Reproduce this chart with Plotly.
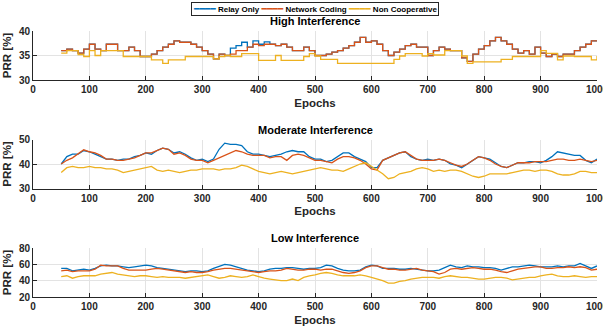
import plotly.graph_objects as go

epochs = list(range(50, 1001, 10))

# High interference
relay_high = [36, 36.3, 36, 35.5, 36.3, 37.3, 36.3, 36, 37.3, 37.3,
              36, 36, 36.7, 36, 34.8, 34.8, 35.3, 36, 36.7, 37.3,
              38, 37.7, 37.7, 37.3, 36.7, 36, 35.3, 34.3, 35.3, 35,
              36.5, 37, 37.7, 36.7, 38, 37.3, 37.8, 37.3, 37, 37.3,
              36.7, 36, 36, 36.7, 36, 35, 35, 35.3, 35.7, 36,
              36.5, 37, 37.7, 38.7, 37.7, 38, 37.3, 36, 35, 35.7,
              36.3, 37, 37.3, 36.7, 36.7, 35, 36, 36.7, 36.3, 36,
              36, 34.5, 33.8, 35.3, 36.3, 37, 38, 38.7, 38, 37.3,
              36.3, 35.5, 36, 35.3, 36.7, 35.5, 34.8, 35.3, 34.8, 35.3,
              35.3, 36, 36.7, 37.3, 38, 38]
nc_high = [36, 36.3, 36, 35.5, 36.3, 37.3, 36.3, 36, 37.3, 37.3,
           36, 36, 36.7, 36, 34.8, 34.8, 35.3, 36, 36.7, 37.3,
           38, 37.7, 37.7, 37.3, 36.7, 36, 35.3, 34.3, 35.3, 35,
           35.3, 36, 36, 36.7, 37.3, 37, 37.3, 37.3, 37, 37.3,
           36.7, 36, 36, 36.7, 36, 35, 35, 35.3, 35.7, 36,
           36.5, 37, 37.7, 38.7, 37.7, 38, 37.3, 36, 35, 35.7,
           36.3, 37, 37.3, 36.7, 36.7, 35, 36, 36.7, 36.3, 36,
           36, 34.5, 33.8, 35.3, 36.3, 37, 38, 38.7, 38, 37.3,
           36.3, 35.5, 36, 35.3, 36.7, 35.5, 34.8, 35.3, 34.8, 35.3,
           35.3, 36, 36.7, 37.3, 38, 38]
non_high = [35.5, 36, 36, 35.2, 34.8, 36, 35, 36, 36, 36,
            36, 34.8, 34.8, 34.8, 34.8, 34.8, 34.1, 34.1, 33.4, 34.1,
            34.1, 34.1, 34.8, 34.8, 34.8, 34.8, 34.8, 34.3, 34.8, 35,
            34.8, 34.8, 35.4, 35.4, 35.4, 34, 34, 34, 35, 34,
            34, 34, 34, 34.8, 35.4, 34.9, 34.2, 34.2, 34.2, 33.4,
            33.4, 33.4, 33.4, 33.4, 33.4, 33.4, 33.4, 33.4, 33.4, 34.2,
            34.9, 35.4, 35.4, 35.4, 34.9, 35.4, 35.1, 35.1, 36, 36,
            36, 34.9, 33.4, 33.7, 33.7, 33.7, 33.7, 33.7, 34.2, 34.2,
            34.8, 34.8, 34.8, 34.8, 34.8, 36, 35.45, 35.45, 34.1, 34.9,
            34.9, 34.8, 34.8, 34.8, 34.1, 34.9]

# Moderate interference
relay_mod = [40, 43, 44, 44, 45.5, 45, 44, 43, 42, 42,
             41.5, 42, 42, 43, 43.5, 44.5, 44, 45.5, 46.5, 46,
             44.5, 45, 44, 42.5, 41.5, 42, 41, 42, 46, 48.5,
             48, 48, 47.5, 45, 44, 44, 43.5, 43, 43.5, 44,
             45, 45.5, 45, 45, 43, 42, 42, 41, 41.5, 43,
             44.5, 44.5, 43, 42, 41, 38.5, 38.5, 41.5, 42.5, 43.5,
             44.5, 45, 43, 42, 41.5, 42, 41.5, 42, 41.5, 40,
             39.5, 38.5, 40, 41.5, 43, 42.5, 42, 40.5, 39, 38.5,
             39.5, 40.5, 40.5, 41, 41, 40.5, 41.5, 43, 45, 44.5,
             44, 43.5, 43.5, 41.5, 40.5, 42]
nc_mod = [40, 41.5, 42.5, 44, 45.8, 45, 44.5, 43.5, 42, 42,
          41.5, 41.5, 42, 42.5, 43.5, 44.5, 44.5, 45.5, 46.5, 46,
          44, 44.5, 43.5, 42, 41.5, 41.5, 40.5, 41.5, 42.5, 43.5,
          44.5, 45.5, 45, 44, 43.5, 43.5, 43.5, 42.5, 43, 43,
          41.5, 43.5, 44, 43.5, 42.5, 41.5, 41.5, 41, 40.5, 42,
          43, 43, 42.5, 41.5, 40, 38, 37.5, 41.5, 42.5, 43.5,
          44.5, 45, 43.5, 42, 41.5, 41.5, 41.5, 42, 41.5, 40.5,
          39.5, 39, 40, 41.5, 43, 42.5, 41.5, 40, 39, 38.5,
          39.5, 40.5, 40.5, 40.5, 41, 41, 41, 41.5, 42, 42,
          41.5, 41.5, 42, 41.5, 41, 41.5]
non_mod = [36.5, 38.5, 39, 38.5, 38.5, 39, 38.5, 38.5, 38, 38,
           37.5, 36.5, 37, 37.5, 38, 38.5, 39, 37.5, 37, 37.5,
           37, 36.5, 37, 37.5, 37.5, 38, 38, 38, 37.5, 38,
           38, 38.5, 39.5, 39, 38, 37, 36.5, 36, 36.5, 37,
           36.5, 36, 36.5, 37, 37.5, 38, 38.5, 38, 37.5, 37.5,
           37, 38, 39, 40, 40.5, 39, 37.5, 36, 34, 34.5,
           36, 36.5, 37, 38, 38.5, 38, 37, 37.5, 37, 37.5,
           37.5, 37, 36, 35, 34.5, 35, 36, 36, 36, 36,
           36.5, 37, 37.5, 37.5, 37, 37.5, 37.5, 37, 36, 35.5,
           35.5, 36, 37, 37, 36.5, 36.5]

# Low interference
relay_low = [55, 55, 52, 53, 54, 53, 55, 58, 59, 58,
             58, 57, 56, 57, 58, 59, 58, 56, 55, 54,
             53, 52, 51, 52, 52, 51, 52, 55, 58, 60,
             59, 57, 55, 53, 52, 51, 52, 54, 55, 55,
             56, 56, 55, 54, 55, 55, 56, 59, 58, 55,
             53, 52, 52, 53, 57, 59, 58, 55, 55, 55,
             54, 54, 55, 54, 53, 52, 52, 53, 56, 59,
             57, 56, 58, 57, 57, 56, 56, 55, 53, 55,
             57, 57, 58, 59, 58, 57, 57, 57, 58, 57,
             58, 58, 61, 58, 55, 58]
nc_low = [52, 53, 51, 52, 52, 52, 54, 59, 58, 58,
          58, 55, 53, 53, 53, 53, 54, 55, 54, 53,
          52, 51, 50, 51, 50, 50, 51, 53, 54, 55,
          55, 54, 53, 52, 51, 50, 51, 52, 52, 53,
          55, 54, 53, 53, 54, 54, 53, 54, 54, 52,
          50, 49, 50, 52, 56, 58, 58, 56, 54, 54,
          53, 53, 54, 55, 53, 52, 51, 48, 50, 54,
          55, 54, 55, 56, 55, 54, 54, 53, 51, 50,
          52, 54, 55, 56, 57, 57, 55, 55, 56, 56,
          57, 56, 57, 56, 53, 54]
non_low = [45, 46, 43, 45, 46, 46, 46, 48, 49, 50,
           48, 47, 46, 45, 46, 46, 45, 44, 45, 44,
           44, 44, 43, 44, 45, 46, 47, 45, 43, 44,
           46, 45, 44, 45, 47, 45, 43, 42, 41, 40,
           40, 42, 40, 44, 46, 47, 49, 50, 49, 47,
           46, 46, 46, 47, 46, 44, 42, 40, 37, 37,
           39, 40, 42, 43, 44, 44, 44, 43, 45, 46,
           45, 44, 44, 43, 42, 42, 43, 44, 44, 43,
           41, 42, 43, 44, 44, 46, 47, 48, 46, 45,
           45, 46, 45, 44, 45, 45]

series_names = ["Relay Only", "Network Coding", "Non Cooperative"]
colors = ["#0072BD", "#D95319", "#EDB120"]
panel_titles = ["High Interference", "Moderate Interference", "Low Interference"]
y_ranges = [[30, 40], [30, 50], [20, 80]]
y_ticks = [[30, 35, 40], [30, 40, 50], [20, 40, 60, 80]]

panels = [
    (relay_high, nc_high, non_high, "hv"),
    (relay_mod, nc_mod, non_mod, "linear"),
    (relay_low, nc_low, non_low, "linear"),
]

W, H = 603, 326
x_dom = [33 / W, 597 / W]
# axes (top px, bottom px)
y_px = [(31, 80), (139.5, 188.5), (248, 297)]

FONT = "Liberation Sans, Arial, sans-serif"
AX = "#262626"
fig = go.Figure()
layout = {}
annotations = []
for i, (r, n, c, shape) in enumerate(panels):
    k = "" if i == 0 else str(i + 1)
    for j, ys in enumerate([r, n, c]):
        fig.add_trace(go.Scatter(
            x=epochs, y=ys, mode="lines", name=series_names[j],
            line=dict(color=colors[j], width=1.3, shape=shape),
            showlegend=False, legendgroup=series_names[j],
            xaxis="x" + k, yaxis="y" + k))
    top, bot = y_px[i]
    dom = [1 - bot / H, 1 - top / H]
    layout["xaxis" + k] = dict(
        domain=x_dom, range=[0, 1000], dtick=100, tick0=0,
        showgrid=True, gridcolor="#e3e3e3", gridwidth=1,
        showline=True, linecolor=AX, linewidth=1,
        ticks="inside", ticklen=4, tickcolor=AX,
        zeroline=False, anchor="y" + k, automargin=False,
        ticklabeloverflow="allow",
        tickfont=dict(family=FONT, size=10, color=AX, weight="bold"),
        title=dict(text="Epochs", standoff=4,
                   font=dict(family=FONT, size=11.5, color=AX, weight="bold")),
    )
    layout["yaxis" + k] = dict(
        domain=dom, range=y_ranges[i], tickvals=y_ticks[i],
        showgrid=True, gridcolor="#e3e3e3", gridwidth=1,
        showline=True, linecolor=AX, linewidth=1,
        ticks="inside", ticklen=4, tickcolor=AX,
        zeroline=False, anchor="x" + k, automargin=False,
        tickfont=dict(family=FONT, size=10, color=AX, weight="bold"),
        title=dict(text="PRR [%]", standoff=4,
                   font=dict(family=FONT, size=11.5, color=AX, weight="bold")),
    )
    annotations.append(dict(
        text=panel_titles[i], xref="paper", yref="paper",
        x=(x_dom[0] + x_dom[1]) / 2, y=dom[1], yshift=2,
        xanchor="center", yanchor="bottom", showarrow=False,
        font=dict(family=FONT, size=11, color="#000000", weight="bold")))

# legend box (text with coloured line samples, matching the series colours)
legend_parts = []
for name, col in zip(series_names, colors):
    legend_parts.append(
        "<span style='color:%s;font-family:DejaVu Sans Mono;font-size:9px'>━━━━</span> %s"
        % (col, name))
annotations.append(dict(
    text=" ".join(legend_parts), xref="paper", yref="paper",
    x=(x_dom[0] + x_dom[1]) / 2, y=1 - 9 / H,
    xanchor="center", yanchor="middle", showarrow=False,
    bgcolor="white", bordercolor=AX, borderwidth=1, borderpad=1,
    font=dict(family=FONT, size=8, color="#000000", weight="bold")))

fig.update_layout(
    width=W, height=H,
    margin=dict(l=0, r=0, t=0, b=0),
    paper_bgcolor="white", plot_bgcolor="white",
    showlegend=False,
    annotations=annotations,
    **layout,
)
fig.write_html("out.html",
               config={"displayModeBar": False},
               post_script="document.body.style.margin='0';document.body.style.padding='0';")
